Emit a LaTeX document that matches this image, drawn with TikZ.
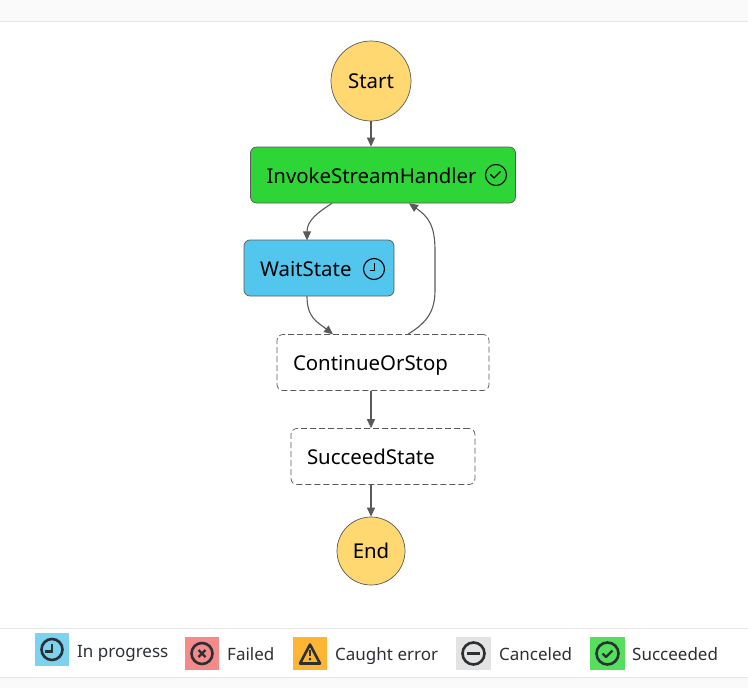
\documentclass[tikz,border=0pt]{standalone}
\usepackage{fontspec}
\setmainfont{Noto Sans}
\usetikzlibrary{arrows.meta}
\definecolor{bandgray}{HTML}{FAFAFA}
\definecolor{rulegray}{HTML}{E6E6E6}
\definecolor{edgegray}{HTML}{5A5A5A}
\definecolor{icondark}{HTML}{2B3035}
\definecolor{endyellow}{HTML}{FFD871}
\definecolor{okgreen}{HTML}{2DD636}
\definecolor{waitblue}{HTML}{53C6EE}
\definecolor{swblue}{HTML}{7BD3F0}
\definecolor{swred}{HTML}{F58A8A}
\definecolor{sworange}{HTML}{FFB534}
\definecolor{swgray}{HTML}{E3E3E3}
\definecolor{swgreen}{HTML}{54E05C}
\tikzset{
  endstate/.style={circle, draw=edgegray, fill=endyellow, line width=0.7pt, inner sep=0pt, font=\fontsize{20.4}{24}\selectfont},
  taskbox/.style={rectangle, rounded corners=6pt, draw=edgegray, line width=0.7pt, minimum height=56pt, inner xsep=16pt, inner ysep=0pt, align=left, text height=18pt, text depth=2pt, font=\fontsize{20.4}{24}\selectfont},
  pendingbox/.style={taskbox, dashed, dash pattern=on 6pt off 3pt},
  flow/.style={draw=edgegray, line width=1.1pt, -{Triangle[length=9pt,width=8pt]}},
  swatch/.style={rectangle, minimum width=34pt, minimum height=33pt, inner sep=0pt},
  legendtext/.style={anchor=west, inner sep=0pt, text=icondark, text height=13pt, text depth=4pt, font=\fontsize{17}{21}\selectfont},
  smallicon/.style={draw=black, line width=1.1pt},
  bigicon/.style={draw=icondark, line width=2.6pt}
}
\begin{document}
\begin{tikzpicture}[x=1pt, y=-1pt]
    \useasboundingbox (0,0) rectangle (748,688);
    % bands
    \fill[bandgray] (0,0) rectangle (748,21);
    \fill[bandgray] (0,677) rectangle (748,688);
    \draw[rulegray, line width=1pt] (0,21.5) -- (748,21.5);
    \draw[rulegray, line width=1pt] (0,628.5) -- (748,628.5);
    \draw[rulegray, line width=1pt] (0,677.5) -- (748,677.5);

    % states
    \node[endstate, minimum size=80pt] (start) at (371,81) {Start};
    \node[taskbox, fill=okgreen, text width=233pt] (invoke) at (383,175) {InvokeStreamHandler};
    \node[taskbox, fill=waitblue, text width=118pt] (wait) at (319,268) {WaitState};
    \node[pendingbox, text width=180pt] (continue) at (383,362.5) {ContinueOrStop};
    \node[pendingbox, text width=152pt] (succeed) at (383,456.5) {SucceedState};
    \node[endstate, minimum size=68pt] (end) at (371,551) {End};

    % status marks in the boxes
    \draw[smallicon] ([xshift=113pt]invoke.center) circle (10.5pt);
    \draw[smallicon, line cap=round, line join=round] ([xshift=107.5pt,yshift=0.5pt]invoke.center) -- ++(3.5,3.5) -- ++(6.5,-6.5);
    \draw[smallicon] ([xshift=55pt,yshift=-1pt]wait.center) circle (10.5pt);
    \draw[smallicon] ([xshift=55.5pt,yshift=5pt]wait.center) -- ++(0,7.5) -- ++(-5,0);

    % connectors
    \draw[flow] (start.south) -- (start.south |- invoke.north);
    \draw[flow] ([xshift=-51pt]invoke.south) .. controls +(-14,9) and +(0,-20) .. ++(-25,37);
    \draw[flow] ([xshift=-12pt]wait.south) .. controls +(0,22) and +(-15,-12) .. ++(26,38);
    \draw[flow] ([xshift=25pt]continue.north) .. controls +(20,-12) and +(0,20) .. ++(27,-44) -- ++(0,-40) .. controls +(0,-25) and +(19,13) .. ([xshift=26pt]invoke.south);
    \draw[flow] (continue.south -| start.south) -- (succeed.north -| start.south);
    \draw[flow] (succeed.south -| start.south) -- (end.north);

    % legend
    \node[swatch, fill=swblue] (progress) at (52,649.5) {};
    \node[swatch, fill=swred] (failed) at (202,653.5) {};
    \node[swatch, fill=sworange] (caught) at (310,653.5) {};
    \node[swatch, fill=swgray, minimum width=35pt] (canceled) at (473.5,653.5) {};
    \node[swatch, fill=swgreen, minimum width=35pt] (succeeded) at (607.5,653.5) {};

    \draw[bigicon] (progress.center) circle (10.5pt);
    \draw[bigicon] ([yshift=6pt]progress.center) -- ++(0,8) -- ++(-7,0);

    \draw[bigicon] (failed.center) circle (10.5pt);
    \draw[bigicon, line width=2.2pt] ([xshift=-3.5pt,yshift=3.5pt]failed.center) -- ++(7,7);
    \draw[bigicon, line width=2.2pt] ([xshift=3.5pt,yshift=3.5pt]failed.center) -- ++(-7,7);

    \draw[bigicon, line join=round] ([yshift=9pt]caught.center) -- ++(10,19) -- ++(-20,0) -- cycle;
    \draw[bigicon, line width=2.2pt] ([yshift=4pt]caught.center) -- ++(0,6);
    \fill[icondark] ([yshift=-5.5pt]caught.center) circle (1.5pt);

    \draw[bigicon] (canceled.center) circle (11pt);
    \draw[bigicon] ([xshift=-6.5pt]canceled.center) -- ++(13,0);

    \draw[bigicon] (succeeded.center) circle (11pt);
    \draw[bigicon, line width=2.2pt, line join=round] ([xshift=-5pt]succeeded.center) -- ++(3.5,3.5) -- ++(6.5,-6.5);

    \node[legendtext] (progresstext) at (77,652.5) {In progress};
    \node[legendtext] (failedtext) at (227,655.5) {Failed};
    \node[legendtext] (caughttext) at (335,655.5) {Caught error};
    \node[legendtext] (canceledtext) at (499,655.5) {Canceled};
    \node[legendtext] (succeededtext) at (632,655.5) {Succeeded};
\end{tikzpicture}
\end{document}
